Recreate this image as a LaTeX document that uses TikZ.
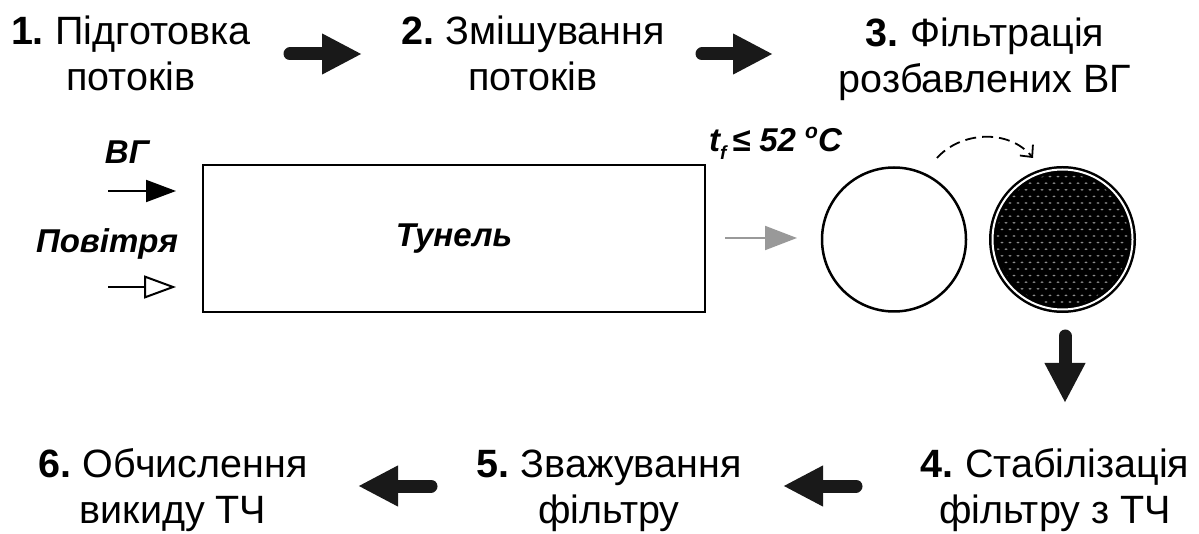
\documentclass[tikz,border=0pt]{standalone}
\usepackage{fontspec}
\setmainfont{Liberation Sans}
\usetikzlibrary{arrows.meta}
\newcommand{\stnum}[1]{\textbf{#1}\hspace{-0.08em}}
\begin{document}
\begin{tikzpicture}[x=1pt,y=-1pt,
  stage/.style={align=center,inner sep=0pt,anchor=base,font=\fontsize{39.5}{46}\selectfont},
  lbl/.style={inner sep=0pt,font=\fontsize{33}{36}\selectfont\bfseries\itshape},
  bigarrow/.style={line width=13pt,line cap=round,draw=black!90,-{Triangle[length=40pt,width=38pt]}},
  thinarrow/.style={line width=2pt,-{Triangle[length=30pt,width=22pt]}},
  openarrow/.style={line width=2pt,-{Triangle[open,length=32pt,width=23pt,fill=white]}},
  grayarrow/.style={line width=2pt,draw=black!40,-{Triangle[length=32pt,width=24pt,color=black!40]}},
  filt/.style={circle,inner sep=0pt,line width=2.5pt,draw=black}
]
\useasboundingbox (0,0) rectangle (1199,534);

% stage texts
\node[stage] (s1) at (131,91) {\stnum{1.} Підготовка\\потоків};
\node[stage] (s2) at (533,91) {\stnum{2.} Змішування\\потоків};
\node[stage] (s3) at (985,93) {\stnum{3.} Фільтрація\\розбавлених ВГ};
\node[stage] (s4) at (1055,523) {\stnum{4.} Стабілізація\\фільтру з ТЧ};
\node[stage] (s5) at (609,523) {\stnum{5.} Зважування\\фільтру};
\node[stage] (s6) at (173,523) {\stnum{6.} Обчислення\\викиду ТЧ};

% big arrows
\coordinate (b1s) at (290,54); \coordinate (b1e) at (362,54);
\coordinate (b2s) at (702,54); \coordinate (b2e) at (773,54);
\coordinate (b3s) at (1065,336); \coordinate (b3e) at (1065,403);
\coordinate (b4s) at (856,486); \coordinate (b4e) at (783,486);
\coordinate (b5s) at (431,486); \coordinate (b5e) at (358,486);
\draw[bigarrow] (b1s) -- (b1e);
\draw[bigarrow] (b2s) -- (b2e);
\draw[bigarrow] (b3s) -- (b3e);
\draw[bigarrow] (b4s) -- (b4e);
\draw[bigarrow] (b5s) -- (b5e);

% tunnel
\node[draw,line width=2pt,minimum width=502pt,minimum height=147pt,inner sep=0pt,
      font=\fontsize{33}{36}\selectfont\bfseries\itshape] (tun) at (454,238.5) {Тунель};

% inlets
\node[lbl] (vg) at (127,152) {ВГ};
\node[lbl] (air) at (107,244) {Повітря};
\coordinate (i1s) at (108,191); \coordinate (i1e) at (176,191);
\coordinate (i2s) at (108,287); \coordinate (i2e) at (176,287);
\draw[thinarrow] (i1s) -- (i1e);
\draw[openarrow] (i2s) -- (i2e);

% gray arrow
\coordinate (g1s) at (725,238); \coordinate (g1e) at (797,238);
\draw[grayarrow] (g1s) -- (g1e);

% temperature
\node[lbl,font=\fontsize{33}{36}\selectfont\bfseries\itshape,anchor=base west] (temp) at (709,152)
  {t\raisebox{-0.22em}{\fontsize{19}{20}\selectfont f}\,≤ 52 \raisebox{0.42em}{\fontsize{21}{22}\selectfont o}C};

% filters
\node[filt,minimum size=144pt] (f1) at (894,239.5) {};
\node[filt,minimum size=140pt,fill=black,double=white,double distance=2pt] (f2) at (1062.5,239.5) {};
\begin{scope}
  \clip (f2.center) circle[radius=66pt];
  \foreach \r in {0,...,21}{
    \foreach \c in {0,...,18}{
      \pgfmathsetmacro{\xx}{990+\c*8+mod(\r,2)*4}
      \pgfmathsetmacro{\yy}{170+\r*6.6}
      \fill[black!45] (\xx,\yy) ellipse[x radius=1.6pt,y radius=0.9pt];
    }
  }
\end{scope}

% dashed arrow
\coordinate (d1) at (937,158);
\coordinate (d2) at (1033,158);
\draw[line width=1.8pt,dash pattern=on 11pt off 6pt,-{Straight Barb[length=9pt,width=17pt]}]
  (d1) .. controls (960,132) and (1008,128) .. (d2);
\end{tikzpicture}
\end{document}
